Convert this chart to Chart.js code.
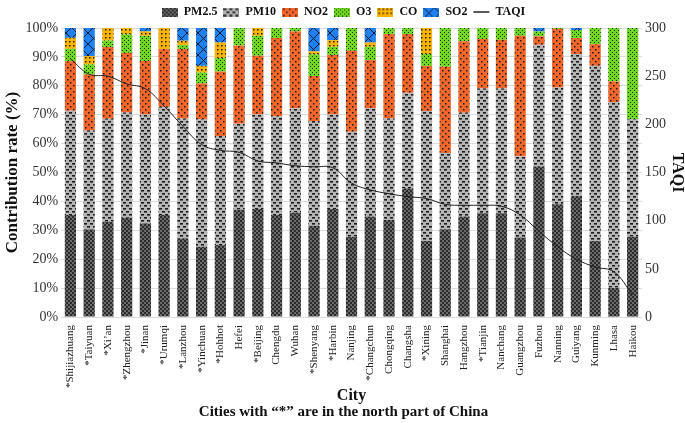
<!DOCTYPE html>
<html>
<head>
<meta charset="utf-8">
<script src="https://cdn.jsdelivr.net/npm/chart.js@4.4.1/dist/chart.umd.min.js"></script>
<style>
  html, body { margin: 0; padding: 0; background: #fff; }
</style>
</head>
<body>
<canvas id="chart" width="685" height="423"></canvas>
<script>
const cities = ['*Shijiazhuang', '*Taiyuan', '*Xi’an', '*Zhengzhou', '*Jinan', '*Urumqi', '*Lanzhou', '*Yinchuan',
    '*Hohhot', 'Hefei', '*Beijing', 'Chengdu', 'Wuhan', '*Shenyang', '*Harbin', 'Nanjing', '*Changchun',
    'Chongqing', 'Changsha', '*Xining', 'Shanghai', 'Hangzhou', '*Tianjin', 'Nanchang', 'Guangzhou',
    'Fuzhou', 'Nanning', 'Guiyang', 'Kunming', 'Lhasa', 'Haikou'];

// contribution rate (%) of each pollutant, bottom to top of the stack
const pm25 = [35.3, 30.3, 33.0, 34.4, 32.4, 35.3, 27.2, 24.3, 24.9, 37.1, 37.4, 35.3, 36.2, 31.6, 37.4, 27.8,
    34.8, 33.6, 44.6, 26.3, 30.4, 34.8, 35.9, 35.9, 27.5, 52.1, 39.0, 41.9, 26.3, 10.1, 27.8];
const pm10 = [36.1, 34.2, 35.6, 36.4, 37.7, 37.4, 41.5, 44.1, 37.7, 29.8, 32.7, 34.2, 36.0, 36.2, 32.7, 36.3,
    37.4, 35.1, 33.0, 45.0, 26.4, 35.9, 43.2, 43.2, 28.1, 42.1, 40.4, 49.1, 60.6, 64.3, 40.6];
const no2 = [17.1, 19.4, 24.8, 20.6, 18.5, 20.0, 24.0, 12.4, 22.3, 27.0, 20.3, 27.0, 26.6, 15.6, 20.6, 28.0,
    16.7, 29.2, 20.3, 15.6, 29.8, 24.7, 17.1, 16.8, 41.7, 2.9, 20.3, 5.5, 7.5, 7.1, 0];
const o3 = [4.3, 3.5, 2.3, 6.4, 8.7, 0, 1.4, 3.8, 4.7, 6.1, 6.9, 3.5, 1.2, 7.5, 2.8, 7.9,
    4.6, 2.1, 2.1, 4.1, 13.4, 4.6, 3.8, 4.1, 2.7, 1.7, 0.3, 2.8, 5.6, 18.5, 31.6];
const co = [3.8, 2.9, 4.3, 2.2, 1.5, 7.3, 1.5, 2.3, 5.4, 0, 2.7, 0, 0, 1.0, 2.3, 0,
    1.5, 0, 0, 9.0, 0, 0, 0, 0, 0, 0, 0, 0, 0, 0, 0];
const so2 = [3.4, 9.7, 0, 0, 1.2, 0, 4.4, 13.1, 5.0, 0, 0, 0, 0, 8.1, 4.2, 0,
    5.0, 0, 0, 0, 0, 0, 0, 0, 0, 1.2, 0, 0.7, 0, 0, 0];
const taqi = [268, 252, 250, 242, 237, 219, 198, 179, 173, 171, 162, 160, 157, 156, 155, 139,
    132, 128, 125, 123, 117, 116, 116, 115, 106, 89, 73, 60, 52, 47, 23];

const FONT = 'Liberation Serif';

function makeTile(w, h, base, draw) {
    const c = document.createElement('canvas');
    c.width = w; c.height = h;
    const g = c.getContext('2d');
    g.fillStyle = base;
    g.fillRect(0, 0, w, h);
    draw(g);
    return c;
}

const tiles = [
    makeTile(4, 4, '#6a6a6a', g => { g.fillStyle = '#2c2c2c'; g.fillRect(0, 0, 2, 2); g.fillRect(2, 2, 2, 2); }),
    makeTile(6, 6, '#b5b5b5', g => { g.fillStyle = '#1c1c1c'; g.fillRect(0, 1, 3, 1.6); g.fillRect(3, 4, 3, 1.6); }),
    makeTile(6, 6, '#f3662c', g => { g.fillStyle = '#1a1a1a'; g.fillRect(1, 1, 1.5, 1.5); g.fillRect(4, 4, 1.5, 1.5); }),
    makeTile(4, 4, '#6fd624', g => { g.fillStyle = '#143000'; g.fillRect(0, 0, 1, 1); g.fillRect(2, 2, 1, 1); }),
    makeTile(4, 4, '#f6b407', g => { g.fillStyle = '#2a1f00'; g.fillRect(1, 1, 1.5, 1.5); }),
    makeTile(11, 11, '#1f80f2', g => {
        g.strokeStyle = '#0b1d3a'; g.lineWidth = 1;
        g.beginPath(); g.moveTo(0, 0); g.lineTo(11, 11); g.moveTo(11, 0); g.lineTo(0, 11); g.stroke();
    })
];

const ctx = document.getElementById('chart').getContext('2d');
const patterns = tiles.map(t => ctx.createPattern(t, 'repeat'));
const swatches = patterns.map(p => {
    const c = document.createElement('canvas');
    c.width = 16; c.height = 9;
    const g = c.getContext('2d');
    g.fillStyle = p;
    g.fillRect(0, 0, 16, 9);
    return c;
});

const barSeries = [
    { label: 'PM2.5', data: pm25 },
    { label: 'PM10', data: pm10 },
    { label: 'NO2', data: no2 },
    { label: 'O3', data: o3 },
    { label: 'CO', data: co },
    { label: 'SO2', data: so2 }
];

const datasets = barSeries.map((s, i) => ({
    type: 'bar',
    label: s.label,
    data: s.data,
    backgroundColor: patterns[i],
    borderWidth: 0,
    yAxisID: 'y',
    stack: 'rate',
    barPercentage: 0.6,
    categoryPercentage: 1,
    order: 1
}));
datasets.push({
    type: 'line',
    label: 'TAQI',
    data: taqi,
    yAxisID: 'y2',
    borderColor: '#222',
    backgroundColor: '#222',
    borderWidth: 1,
    pointRadius: 0,
    tension: 0.4,
    fill: false,
    order: 0
});

new Chart(ctx, {
    type: 'bar',
    data: { labels: cities, datasets },
    options: {
        responsive: false,
        animation: false,
        devicePixelRatio: 1,
        layout: { padding: { left: 2, right: 0, top: 0, bottom: 0 } },
        plugins: {
            legend: {
                position: 'top',
                labels: {
                    usePointStyle: true,
                    pointStyleWidth: 16,
                    boxHeight: 9,
                    padding: 6,
                    color: '#111',
                    font: { family: FONT, size: 12, weight: 'bold' },
                    sort: (a, b) => a.datasetIndex - b.datasetIndex,
                    generateLabels(chart) {
                        const items = Chart.defaults.plugins.legend.labels.generateLabels(chart);
                        items.forEach(it => {
                            const i = it.datasetIndex;
                            if (i < swatches.length) {
                                it.pointStyle = swatches[i];
                            } else {
                                it.pointStyle = 'line';
                                it.strokeStyle = '#222';
                                it.lineWidth = 1.5;
                            }
                        });
                        return items;
                    }
                }
            },
            title: {
                display: true,
                position: 'bottom',
                text: 'Cities with “*” are in the north part of China',
                color: '#111',
                font: { family: FONT, size: 15, weight: 'bold', lineHeight: 1.0 },
                padding: { top: 1, bottom: 3 }
            },
            tooltip: { enabled: false }
        },
        scales: {
            x: {
                stacked: true,
                grid: { display: false },
                border: { display: false },
                ticks: {
                    autoSkip: false,
                    minRotation: 90,
                    maxRotation: 90,
                    padding: 0,
                    color: '#222',
                    font: { family: FONT, size: 11 }
                },
                title: {
                    display: true,
                    text: 'City',
                    color: '#111',
                    font: { family: FONT, size: 16, weight: 'bold', lineHeight: 1.0 },
                    padding: { top: 0, bottom: 0 }
                }
            },
            y: {
                stacked: true,
                min: 0,
                max: 100,
                grid: { color: '#dcdcdc', drawTicks: false },
                border: { display: false },
                ticks: {
                    stepSize: 10,
                    padding: 3,
                    color: '#333',
                    font: { family: FONT, size: 14 },
                    callback: v => v + '%'
                },
                title: {
                    display: true,
                    text: 'Contribution rate (%)',
                    color: '#111',
                    font: { family: FONT, size: 17, weight: 'bold' },
                    padding: { top: 0, bottom: 0 }
                }
            },
            y2: {
                position: 'right',
                min: 0,
                max: 300,
                grid: { display: false, drawTicks: false },
                border: { display: false },
                ticks: {
                    stepSize: 50,
                    padding: 3,
                    color: '#333',
                    font: { family: FONT, size: 14 }
                },
                title: {
                    display: true,
                    text: 'TAQI',
                    color: '#111',
                    font: { family: FONT, size: 16, weight: 'bold', lineHeight: 1.0 },
                    padding: { top: 0, bottom: 0 }
                }
            }
        }
    }
});
</script>
</body>
</html>
